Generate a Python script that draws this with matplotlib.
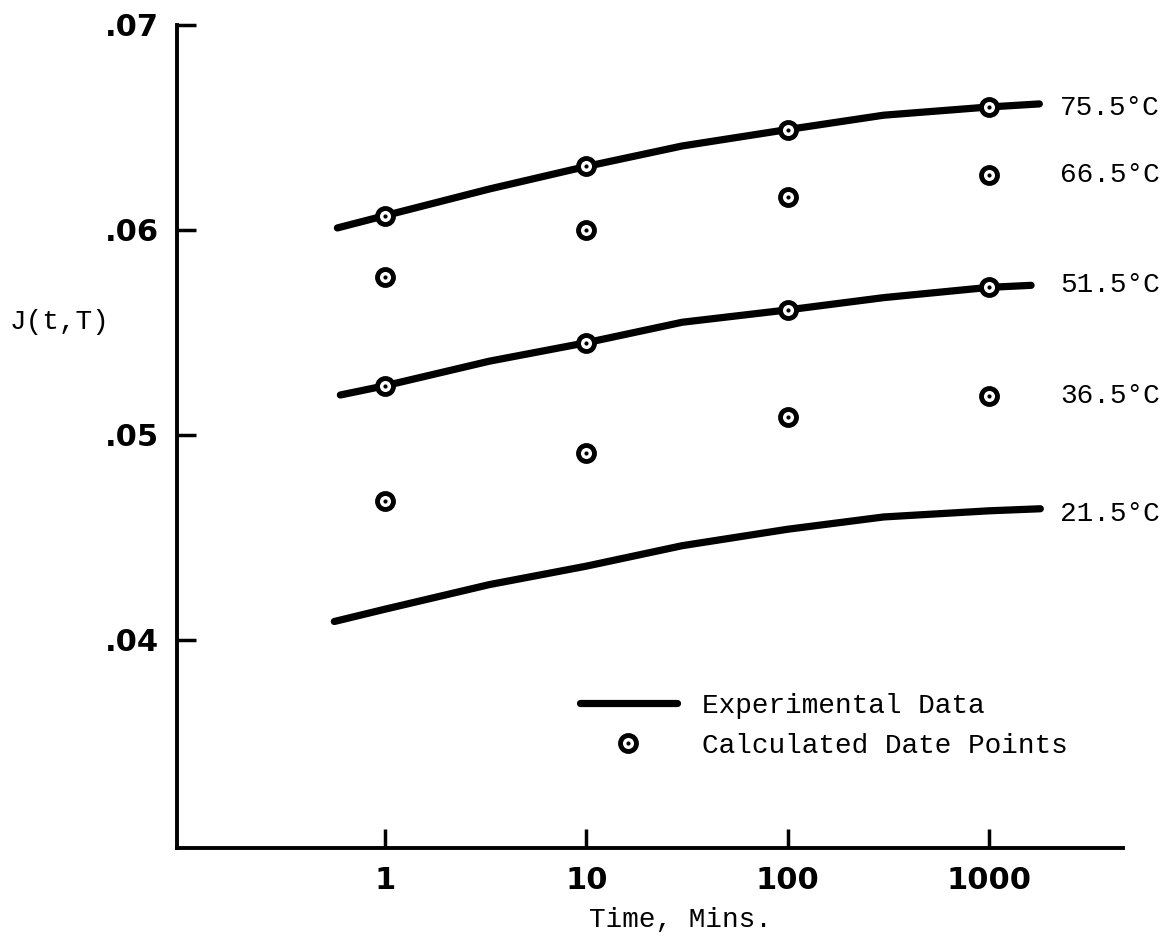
import matplotlib
matplotlib.use("Agg")
import matplotlib.pyplot as plt
from matplotlib.lines import Line2D
from matplotlib.legend_handler import HandlerTuple
import numpy as np

# experimental curves, time in mins
t_755 = [0.58, 1, 3.3, 10, 30, 100, 300, 1000, 1780]
J_755 = [0.0601, 0.0607, 0.0620, 0.0631, 0.0641, 0.0649, 0.0656, 0.0660, 0.06615]

t_515 = [0.6, 1, 3.3, 10, 30, 100, 300, 1000, 1620]
J_515 = [0.05195, 0.0524, 0.0536, 0.0545, 0.0555, 0.0561, 0.0567, 0.0572, 0.0573]

t_215 = [0.56, 1, 3.3, 10, 30, 100, 300, 1000, 1800]
J_215 = [0.0409, 0.0415, 0.0427, 0.0436, 0.0446, 0.0454, 0.0460, 0.0463, 0.0464]

# calculated points
t_calc = [1, 10, 100, 1000]
calc_755 = [0.0607, 0.0631, 0.0649, 0.0660]
calc_665 = [0.0577, 0.0600, 0.0616, 0.0627]
calc_515 = [0.0524, 0.0545, 0.0561, 0.0572]
calc_365 = [0.0468, 0.0491, 0.0509, 0.0519]

temp_labels = ["75.5°C", "66.5°C", "51.5°C", "36.5°C", "21.5°C"]
xtick_vals = [1, 10, 100, 1000]
xtick_labels = ["1", "10", "100", "1000"]
ytick_vals = [0.04, 0.05, 0.06, 0.07]
ytick_labels = [".04", ".05", ".06", ".07"]

MONO = "Liberation Mono"
SANS = "DejaVu Sans"

fig = plt.figure(figsize=(11.65, 9.38), dpi=100)
ax = fig.add_axes([177/1165, 1-848/938, 946/1165, 823/938])

ax.set_xscale("log")
ax.set_xlim(0.0926, 4636)
ax.set_ylim(0.02985, 0.07)

lw = 5.2
for t, J in [(t_755, J_755), (t_515, J_515), (t_215, J_215)]:
    ax.plot(t, J, color="black", lw=lw, solid_capstyle="round",
            solid_joinstyle="round", zorder=2)

def ring(x, y):
    ax.plot(x, y, ls="none", marker="o", ms=11.5, mfc="white", mec="black",
            mew=3.5, zorder=3)
    ax.plot(x, y, ls="none", marker="o", ms=3, mfc="black", mec="black",
            mew=0, zorder=4)

for c in [calc_755, calc_665, calc_515, calc_365]:
    ring(t_calc, c)

# temperature labels at the right end of each series
ends = [J_755[-1], calc_665[-1], J_515[-1], calc_365[-1], J_215[-1]]
offs = [-0.0002, 0, 0, 0, -0.00025]
for lab, yv, o in zip(temp_labels, ends, offs):
    ax.text(2250, yv + o, lab, fontsize=20, family=MONO, va="center",
            ha="left")

# axes styling
for s in ["top", "right"]:
    ax.spines[s].set_visible(False)
for s in ["left", "bottom"]:
    ax.spines[s].set_linewidth(2.8)
    ax.spines[s].set_capstyle("projecting")

ax.xaxis.set_minor_locator(matplotlib.ticker.NullLocator())
ax.set_xticks(xtick_vals)
ax.set_xticklabels(xtick_labels)
ax.set_yticks(ytick_vals)
ax.set_yticklabels(ytick_labels)
ax.tick_params(axis="both", direction="in", width=2.5, length=13.5, pad=13)
for lab in ax.get_xticklabels() + ax.get_yticklabels():
    lab.set_fontsize(22)
    lab.set_fontweight("bold")
    lab.set_family(SANS)

ax.set_ylabel("J(t,T)", fontsize=20, family=MONO, rotation=0,
              ha="center", va="center")
ax.yaxis.set_label_coords(-0.124, 0.639)
ax.set_xlabel("Time, Mins.", fontsize=20, family=MONO, ha="center",
              va="center")
ax.xaxis.set_label_coords(0.532, -0.0875)

# legend
h_line = Line2D([], [], color="black", lw=5.2, solid_capstyle="round")
h_ring = Line2D([], [], ls="none", marker="o", ms=11.5, mfc="white",
                mec="black", mew=3.5)
h_dot = Line2D([], [], ls="none", marker="o", ms=3, mfc="black", mew=0)
leg = ax.legend([h_line, (h_ring, h_dot)],
                ["Experimental Data", "Calculated Date Points"],
                handler_map={tuple: HandlerTuple(ndivide=1)},
                loc="upper left", bbox_to_anchor=(0.4257, 0.1885),
                frameon=False, borderpad=0, borderaxespad=0,
                handlelength=3.5, handletextpad=0.9, labelspacing=0.5,
                prop={"family": MONO, "size": 20})

fig.savefig("out.png", dpi=100)
